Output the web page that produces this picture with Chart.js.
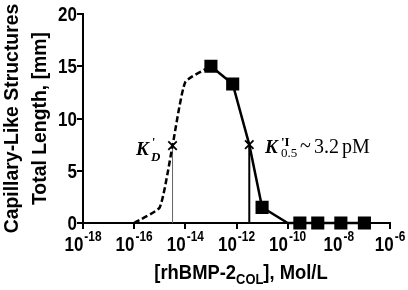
<!DOCTYPE html>
<html>
<head>
<meta charset="utf-8">
<script src="https://cdn.jsdelivr.net/npm/chart.js@4.4.0/dist/chart.umd.min.js"></script>
<style>
html, body { margin: 0; padding: 0; background: #fff; }
</style>
</head>
<body>
<canvas id="graficoBMP" width="408" height="290"></canvas>
<script>
// eixo x (log) e eixo y
const xTicks = [1e-18, 1e-16, 1e-14, 1e-12, 1e-10, 1e-8, 1e-6];
const xExpoentes = ["-18", "-16", "-14", "-12", "-10", "-8", "-6"];
const yTicks = [0, 5, 10, 15, 20];

// parte tracejada (ajuste)
const ajusteX = [1e-16, 1e-15, 3.16e-15, 1e-14, 1e-13];
const ajusteY = [0, 1.5, 7.4, 13.5, 15];

// pontos medidos
const medidoX = [1e-13, 7.1e-13, 3.16e-12, 1e-11, 1e-10, 3e-10, 1.5e-9, 1.2e-8, 1e-7];
const medidoY = [15, 13.3, 7.5, 1.5, 0, 0, 0, 0, 0];
const medidoMarca = [1, 1, 0, 1, 0, 1, 1, 1, 1];

// K'D e K'I 0.5
const kX = [3.16e-15, 3.16e-12];
const kY = [7.4, 7.5];

const SANS = '"Liberation Sans", Arial, sans-serif';
const SERIF = '"Liberation Serif", "Times New Roman", serif';

function pares(xs, ys) {
    return xs.map((x, i) => ({ x: x, y: ys[i] }));
}

// texto "estreito" (simula Arial Narrow)
function larguraEstreita(ctx, texto, fonte, fator) {
    ctx.font = fonte;
    return ctx.measureText(texto).width * fator;
}
function textoEstreito(ctx, texto, x, y, fonte, fator) {
    ctx.save();
    ctx.font = fonte;
    ctx.textAlign = "left";
    ctx.translate(x, y);
    ctx.scale(fator, 1);
    ctx.fillText(texto, 0, 0);
    ctx.restore();
}

const textosPlugin = {
    id: "textos",
    afterDraw(chart) {
        const ctx = chart.ctx;
        const sx = chart.scales.x;
        const sy = chart.scales.y;
        const area = chart.chartArea;
        const fBase = "bold 20px " + SANS;
        const fSup = "bold 14px " + SANS;
        const fTick = 0.85;
        ctx.save();
        ctx.fillStyle = "#000";
        ctx.textBaseline = "alphabetic";

        // rótulos do eixo y
        yTicks.forEach(v => {
            const py = sy.getPixelForValue(v);
            const w = larguraEstreita(ctx, String(v), fBase, fTick);
            textoEstreito(ctx, String(v), 77 - w, py + 7, fBase, fTick);
        });

        // rótulos do eixo x: 10^n
        xTicks.forEach((v, i) => {
            const px = sx.getPixelForValue(v);
            const wb = larguraEstreita(ctx, "10", fBase, fTick);
            const ws = larguraEstreita(ctx, xExpoentes[i], fSup, fTick);
            const x0 = px - (wb + 1 + ws) / 2;
            textoEstreito(ctx, "10", x0, 251, fBase, fTick);
            textoEstreito(ctx, xExpoentes[i], x0 + wb + 1, 241, fSup, fTick);
        });

        // título do eixo x
        const fT = 0.92;
        const t1 = "[rhBMP-2", t2 = "COL", t3 = "], Mol/L";
        const w1 = larguraEstreita(ctx, t1, fBase, fT);
        const w2 = larguraEstreita(ctx, t2, fSup, fT);
        const w3 = larguraEstreita(ctx, t3, fBase, fT);
        const xt = 241 - (w1 + w2 + w3) / 2;
        textoEstreito(ctx, t1, xt, 279, fBase, fT);
        textoEstreito(ctx, t2, xt + w1, 284, fSup, fT);
        textoEstreito(ctx, t3, xt + w1 + w2, 279, fBase, fT);

        // título do eixo y (duas linhas)
        const cy = (area.top + area.bottom) / 2;
        ctx.save();
        ctx.translate(0, cy);
        ctx.rotate(-Math.PI / 2);
        ctx.textBaseline = "middle";
        const fY = 0.97;
        const l1 = "Capillary-Like Structures", l2 = "Total Length, [mm]";
        textoEstreito(ctx, l1, -larguraEstreita(ctx, l1, fBase, fY) / 2, 12, fBase, fY);
        textoEstreito(ctx, l2, -larguraEstreita(ctx, l2, fBase, fY) / 2, 40, fBase, fY);
        ctx.restore();

        // K'D
        ctx.textAlign = "left";
        ctx.font = "bold italic 19px " + SERIF;
        ctx.fillText("K", 136, 155);
        ctx.font = "bold 12px " + SERIF;
        ctx.fillText("'", 152, 146);
        ctx.font = "bold italic 13px " + SERIF;
        ctx.fillText("D", 151, 161);

        // K'I 0.5 ~ 3.2pM
        ctx.font = "bold italic 19px " + SERIF;
        ctx.fillText("K", 265, 153);
        ctx.font = "bold 13px " + SERIF;
        ctx.fillText("'I", 281, 146);
        ctx.font = "13px " + SERIF;
        ctx.fillText("0.5", 281, 157);
        ctx.font = "20px " + SERIF;
        ctx.fillText("~", 300, 152);
        ctx.fillText("3.2", 314, 153);
        ctx.fillText("pM", 342, 153);

        ctx.restore();
    }
};

const ctx = document.getElementById("graficoBMP").getContext("2d");
new Chart(ctx, {
    type: "line",
    data: {
        datasets: [
            {
                label: "medido",
                data: pares(medidoX, medidoY),
                borderColor: "#000",
                backgroundColor: "#000",
                borderWidth: 2.5,
                pointStyle: "rect",
                pointRadius: medidoMarca.map(m => m ? 7.5 : 0),
                clip: false,
                order: 1
            },
            {
                label: "ajuste",
                data: pares(ajusteX, ajusteY),
                borderColor: "#000",
                borderWidth: 2.5,
                borderDash: [6, 3],
                pointRadius: 0,
                tension: 0.15,
                clip: false,
                order: 2
            },
            {
                label: "K",
                data: pares(kX, kY),
                showLine: false,
                pointStyle: "crossRot",
                pointRadius: 6,
                borderColor: "#000",
                borderWidth: 1.8,
                order: 0
            },
            {
                label: "linhaKD",
                data: [{ x: kX[0], y: 0 }, { x: kX[0], y: kY[0] }],
                borderColor: "#666",
                borderWidth: 1,
                pointRadius: 0,
                order: 3
            },
            {
                label: "linhaKI",
                data: [{ x: kX[1], y: 0 }, { x: kX[1], y: kY[1] }],
                borderColor: "#000",
                borderWidth: 2,
                pointRadius: 0,
                order: 3
            }
        ]
    },
    options: {
        responsive: false,
        animation: false,
        devicePixelRatio: 1,
        layout: { padding: { left: 0, top: 14, right: 18, bottom: 0 } },
        plugins: {
            legend: { display: false },
            tooltip: { enabled: false }
        },
        scales: {
            x: {
                type: "logarithmic",
                position: "bottom",
                min: 1e-18,
                max: 1e-6,
                afterBuildTicks: s => { s.ticks = xTicks.map(v => ({ value: v })); },
                afterFit: s => { s.height = 67; },
                ticks: { display: false },
                grid: { drawOnChartArea: false, drawTicks: true, tickLength: 6, color: "#000", lineWidth: 2 },
                border: { color: "#000", width: 2 }
            },
            y: {
                min: 0,
                max: 20,
                afterBuildTicks: s => { s.ticks = yTicks.map(v => ({ value: v })); },
                afterFit: s => { s.width = 83; },
                ticks: { display: false },
                grid: { drawOnChartArea: false, drawTicks: true, tickLength: 6, color: "#000", lineWidth: 2 },
                border: { color: "#000", width: 2 }
            }
        }
    },
    plugins: [textosPlugin]
});
</script>
</body>
</html>
